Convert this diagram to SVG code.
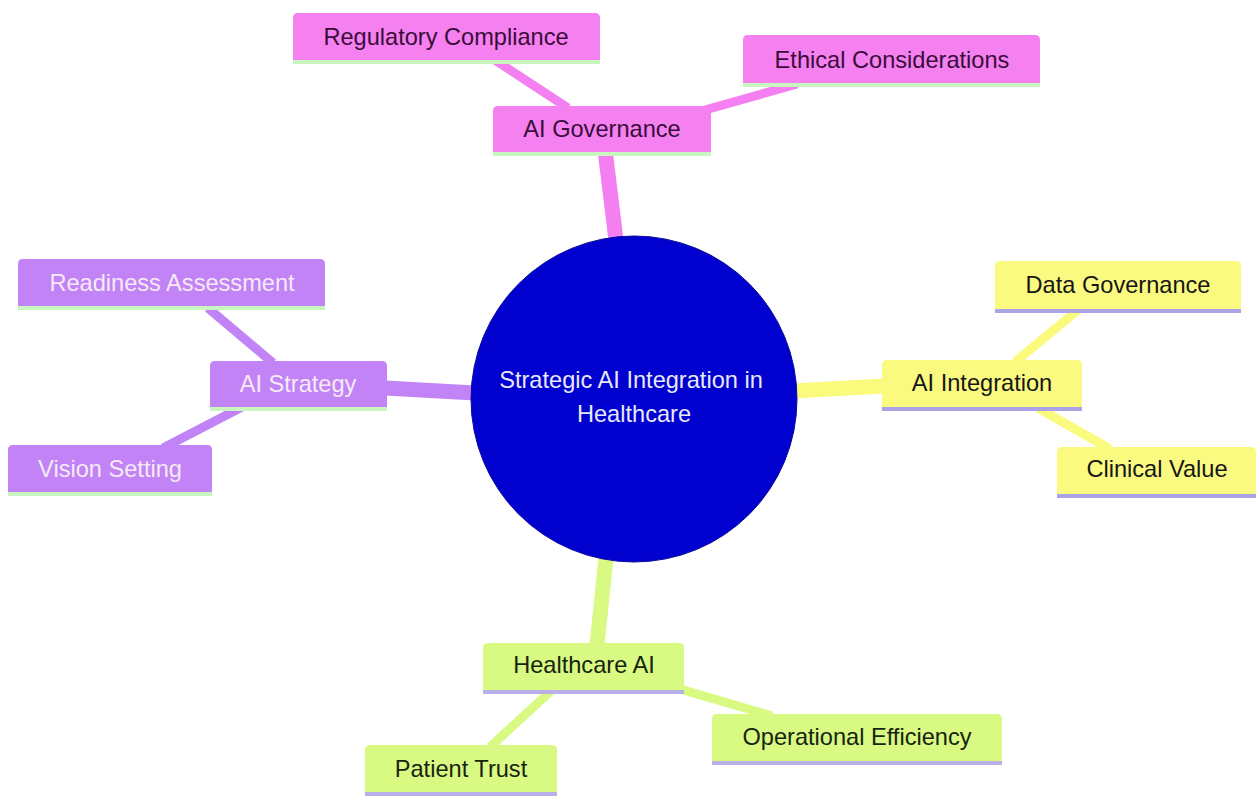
<svg xmlns="http://www.w3.org/2000/svg" width="1256" height="796" viewBox="0 0 1256 796">
<style>
text{font-family:"Liberation Sans",Arial,sans-serif;font-size:23.6px;text-anchor:middle;dominant-baseline:central}
.pink path{fill:#f580f0}.pink text{fill:#3a0c3a}.pink line{stroke:#c8f5c0}
.purple path{fill:#c183f5}.purple text{fill:#f6eaf6}.purple line{stroke:#c8f5c0}
.yellow path{fill:#fafa80}.yellow text{fill:#161616}.yellow line{stroke:#aaa3e6}
.green path{fill:#d8f982}.green text{fill:#182410}.green line{stroke:#b8b0e6}
.node line{stroke-width:4}
#connectors line{stroke-linecap:butt}
.c-pink{stroke:#f47ff0}.c-purple{stroke:#c183f5}.c-yellow{stroke:#fafa7c}.c-green{stroke:#d8f982}
.main{stroke-width:15}.leaf{stroke-width:9}
</style>
<rect width="1256" height="796" fill="#ffffff"/>
<g id="connectors">
<line class="c-pink main" x1="605" y1="150" x2="616" y2="240"/>
<line class="c-pink leaf" x1="495" y1="60" x2="568" y2="108"/>
<line class="c-pink leaf" x1="797" y1="84" x2="705" y2="110"/>
<line class="c-purple main" x1="385" y1="388" x2="475" y2="393"/>
<line class="c-purple leaf" x1="208" y1="308" x2="273" y2="363"/>
<line class="c-purple leaf" x1="242" y1="407" x2="163" y2="448"/>
<line class="c-yellow main" x1="793" y1="391" x2="884" y2="386"/>
<line class="c-yellow leaf" x1="1078" y1="310" x2="1015" y2="362"/>
<line class="c-yellow leaf" x1="1038" y1="408" x2="1110" y2="449"/>
<line class="c-green main" x1="606" y1="558" x2="597" y2="645"/>
<line class="c-green leaf" x1="552" y1="690" x2="490" y2="747"/>
<line class="c-green leaf" x1="680" y1="689" x2="772" y2="716"/>
</g>
<g id="root">
<circle cx="634" cy="399" r="163" fill="#0000cf" stroke="#0a0a9a" stroke-width="1"/>
<text x="631" y="380" fill="#e8e8f6">Strategic AI Integration in</text>
<text x="634" y="414" fill="#e8e8f6">Healthcare</text>
</g>
<g id="ai-governance" class="node pink">
<path d="M493,152 V111 Q493,106 498,106 H706 Q711,106 711,111 V152 Z"/>
<line x1="493" y1="154" x2="711" y2="154"/>
<text x="602" y="129">AI Governance</text>
</g>
<g id="regulatory-compliance" class="node pink">
<path d="M293,60 V18 Q293,13 298,13 H595 Q600,13 600,18 V60 Z"/>
<line x1="293" y1="62" x2="600" y2="62"/>
<text x="446" y="37">Regulatory Compliance</text>
</g>
<g id="ethical-considerations" class="node pink">
<path d="M743,83 V40 Q743,35 748,35 H1035 Q1040,35 1040,40 V83 Z"/>
<line x1="743" y1="85" x2="1040" y2="85"/>
<text x="892" y="60">Ethical Considerations</text>
</g>
<g id="ai-strategy" class="node purple">
<path d="M210,407 V366 Q210,361 215,361 H382 Q387,361 387,366 V407 Z"/>
<line x1="210" y1="409" x2="387" y2="409"/>
<text x="298" y="384">AI Strategy</text>
</g>
<g id="readiness-assessment" class="node purple">
<path d="M18,306 V264 Q18,259 23,259 H320 Q325,259 325,264 V306 Z"/>
<line x1="18" y1="308" x2="325" y2="308"/>
<text x="172" y="283">Readiness Assessment</text>
</g>
<g id="vision-setting" class="node purple">
<path d="M8,492 V450 Q8,445 13,445 H207 Q212,445 212,450 V492 Z"/>
<line x1="8" y1="494" x2="212" y2="494"/>
<text x="110" y="469">Vision Setting</text>
</g>
<g id="ai-integration" class="node yellow">
<path d="M882,407 V365 Q882,360 887,360 H1077 Q1082,360 1082,365 V407 Z"/>
<line x1="882" y1="409" x2="1082" y2="409"/>
<text x="982" y="383">AI Integration</text>
</g>
<g id="data-governance" class="node yellow">
<path d="M995,309 V266 Q995,261 1000,261 H1236 Q1241,261 1241,266 V309 Z"/>
<line x1="995" y1="311" x2="1241" y2="311"/>
<text x="1118" y="285">Data Governance</text>
</g>
<g id="clinical-value" class="node yellow">
<path d="M1057,494 V452 Q1057,447 1062,447 H1251 Q1256,447 1256,452 V494 Z"/>
<line x1="1057" y1="496" x2="1256" y2="496"/>
<text x="1157" y="469">Clinical Value</text>
</g>
<g id="healthcare-ai" class="node green">
<path d="M483,690 V648 Q483,643 488,643 H679 Q684,643 684,648 V690 Z"/>
<line x1="483" y1="692" x2="684" y2="692"/>
<text x="584" y="665">Healthcare AI</text>
</g>
<g id="patient-trust" class="node green">
<path d="M365,792 V750 Q365,745 370,745 H552 Q557,745 557,750 V792 Z"/>
<line x1="365" y1="794" x2="557" y2="794"/>
<text x="461" y="769">Patient Trust</text>
</g>
<g id="operational-efficiency" class="node green">
<path d="M712,761 V719 Q712,714 717,714 H997 Q1002,714 1002,719 V761 Z"/>
<line x1="712" y1="763" x2="1002" y2="763"/>
<text x="857" y="737">Operational Efficiency</text>
</g>
</svg>
